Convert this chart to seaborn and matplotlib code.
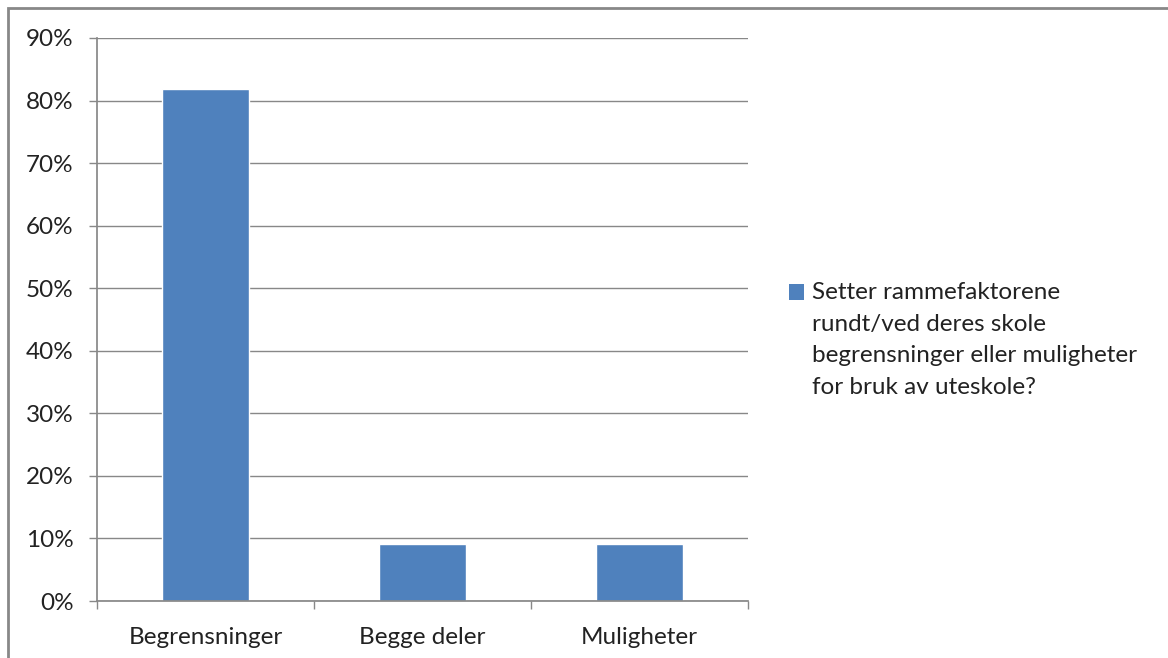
import matplotlib
matplotlib.use("Agg")
import matplotlib.pyplot as plt
import seaborn as sns
import pandas as pd
from matplotlib.ticker import PercentFormatter, MultipleLocator
from matplotlib.patches import Rectangle, Patch
from matplotlib.legend_handler import HandlerPatch

categories = ["Begrensninger", "Begge deler", "Muligheter"]
values = [0.818, 0.091, 0.091]
series_name = "Setter rammefaktorene\nrundt/ved deres skole\nbegrensninger eller muligheter\nfor bruk av uteskole?"

sns.set_theme(style="white")
plt.rcParams['font.family'] = ['Lato', 'DejaVu Sans']

df = pd.DataFrame({"cat": categories, "val": values, "series": series_name})

FS = 17.5
LS = 1.64
W, H = 1168, 658
fig = plt.figure(figsize=(W/100, H/100), dpi=100)
fig.patch.set_facecolor("white")
ax = fig.add_axes([97/W, 1 - 601/H, (748-97)/W, (601-38)/H])

color = "#4F81BD"
sns.barplot(data=df, x="cat", y="val", color=color, width=0.4, ax=ax, saturation=1)

ax.set_ylim(0, 0.9)
ax.set_xlim(-0.5, 2.5)
ax.yaxis.set_major_locator(MultipleLocator(0.1))
ax.yaxis.set_major_formatter(PercentFormatter(1.0, decimals=0))
ax.set_xlabel("")
ax.set_ylabel("")
ax.grid(axis="y", color="#888888", linewidth=1)
ax.set_axisbelow(True)
for s in ["top", "right"]:
    ax.spines[s].set_visible(False)
ax.spines["left"].set_color("#888888")
ax.spines["bottom"].set_color("#888888")

ax.tick_params(axis="y", which="major", left=True, length=6, width=1, color="#888888",
               labelsize=FS, labelcolor="#222222", pad=11)
ax.set_xticks([0, 1, 2])
ax.set_xticklabels(categories)
ax.tick_params(axis="x", which="major", bottom=False, labelsize=FS, labelcolor="#222222", pad=13)
ax.set_xticks([-0.5, 0.5, 1.5, 2.5], minor=True)
ax.tick_params(axis="x", which="minor", bottom=True, length=6, width=1, color="#888888")

# shift the legend square up to the first text line (1.5 line gaps of 32 px)
shift = 1.5 * 32 * 0.72


def top_patch(legend, orig_handle, xdescent, ydescent, width, height, fontsize):
    return Rectangle((-xdescent, -ydescent + shift), width, height)


handle = Patch(facecolor=color, edgecolor="none")
leg = fig.legend([handle], [series_name], loc="center left",
                 bbox_to_anchor=(767/W, 1 - 340/H), frameon=False,
                 fontsize=FS, handlelength=0.62, handleheight=0.62, handletextpad=0.35,
                 handler_map={Patch: HandlerPatch(patch_func=top_patch)})
for t in leg.get_texts():
    t.set_color("#222222")
    t.set_linespacing(LS)

fig.patches.append(Rectangle((8/W, -0.1), 1.2, 1 - 8/H + 0.1, transform=fig.transFigure,
                             fill=False, edgecolor="#888888", linewidth=2))

fig.savefig("out.png", dpi=100)
